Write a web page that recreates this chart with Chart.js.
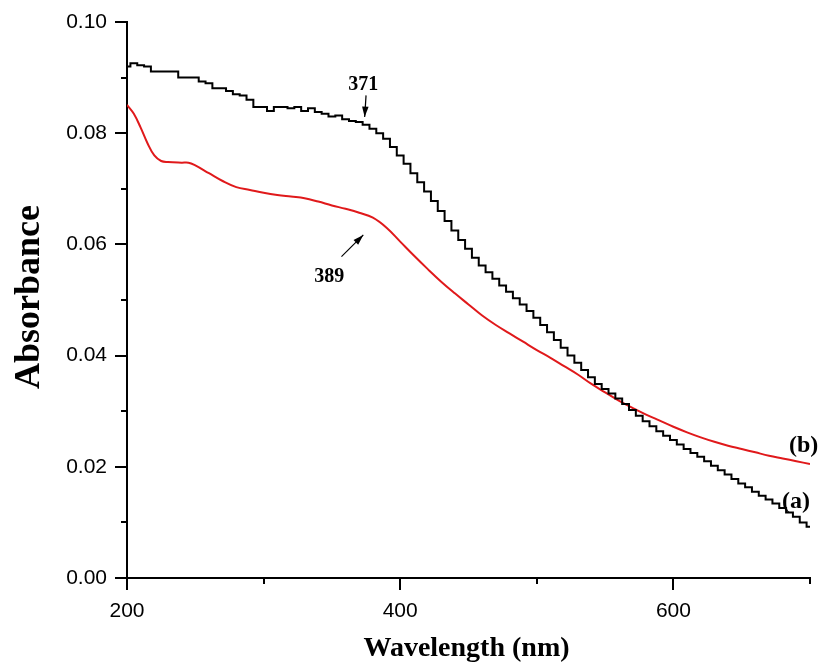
<!DOCTYPE html>
<html>
<head>
<meta charset="utf-8">
<style>
  html, body { margin: 0; padding: 0; background: #fff; }
  #wrap { width: 819px; height: 662px; }
</style>
<script src="https://cdn.jsdelivr.net/npm/chart.js@4.4.1/dist/chart.umd.min.js"></script>
</head>
<body>
<div id="wrap"><canvas id="uvChart" width="819" height="662"></canvas></div>
<script>
// curve (a), black, stepped trace
const wavelengthA = [200,205,210,215,220,225,230,235,240,245,250,255,260,265,270,275,280,285,290,295,
  300,305,310,315,320,325,330,335,340,345,350,355,360,365,370,375,380,385,390,395,
  400,405,410,415,420,425,430,435,440,445,450,455,460,465,470,475,480,485,490,495,
  500,505,510,515,520,525,530,535,540,545,550,555,560,565,570,575,580,585,590,595,
  600,605,610,615,620,625,630,635,640,645,650,655,660,665,670,675,680,685,690,695,700];
const absorbA = [0.0920,0.0926,0.0922,0.0920,0.0911,0.0911,0.0911,0.0911,0.0900,0.0900,0.0900,0.0893,0.0890,0.0881,0.0881,0.0876,0.0870,0.0868,0.0860,0.0847,
  0.0847,0.0840,0.0847,0.0847,0.0845,0.0847,0.0840,0.0845,0.0838,0.0835,0.0830,0.0832,0.0825,0.0822,0.0820,0.0815,0.0808,0.0800,0.0790,0.0775,
  0.0760,0.0745,0.0728,0.0712,0.0695,0.0678,0.0660,0.0642,0.0625,0.0608,0.0592,0.0576,0.0562,0.0550,0.0538,0.0526,0.0515,0.0503,0.0492,0.0480,
  0.0468,0.0455,0.0442,0.0428,0.0414,0.0400,0.0387,0.0374,0.0361,0.0349,0.0340,0.0332,0.0323,0.0313,0.0302,0.0292,0.0282,0.0273,0.0264,0.0256,
  0.0248,0.0240,0.0232,0.0225,0.0218,0.0210,0.0202,0.0194,0.0186,0.0178,0.0170,0.0163,0.0155,0.0148,0.0141,0.0134,0.0126,0.0118,0.0110,0.0100,0.0092];

// curve (b), red, smooth trace
const wavelengthB = [200,205,210,215,220,225,230,240,245,250,260,270,280,290,300,310,320,330,340,350,
  360,370,380,390,400,410,420,430,440,450,460,470,480,490,500,510,520,530,540,550,
  560,570,580,590,600,610,620,630,640,650,660,670,680,690,700];
const absorbB = [0.0851,0.0835,0.0810,0.0782,0.0760,0.0750,0.0748,0.0747,0.0747,0.0742,0.0728,0.0714,0.0703,0.0698,0.0693,0.0689,0.0686,0.0683,0.0677,0.0670,
  0.0664,0.0657,0.0648,0.0630,0.0605,0.0580,0.0556,0.0533,0.0512,0.0492,0.0472,0.0455,0.0440,0.0425,0.0410,0.0396,0.0381,0.0366,0.0349,0.0334,
  0.0319,0.0306,0.0294,0.0283,0.0272,0.0262,0.0253,0.0245,0.0238,0.0232,0.0226,0.0220,0.0215,0.0210,0.0205];

const xTickLabels = [200, 400, 600];
const yTickLabels = ['0.00', '0.02', '0.04', '0.06', '0.08', '0.10'];

const pts = (xs, ys) => xs.map((x, i) => ({ x: x, y: ys[i] }));

// ticks, axis titles and peak labels
const decorations = {
  id: 'decorations',
  afterDraw(chart) {
    const ctx = chart.ctx;
    const xs = chart.scales.x, ys = chart.scales.y;
    const area = chart.chartArea;
    ctx.save();
    ctx.strokeStyle = '#000';
    ctx.lineWidth = 2;
    ys.ticks.forEach((t, i) => {
      const py = Math.round(ys.getPixelForValue(t.value));
      const len = i % 2 === 0 ? 12 : 6;
      ctx.beginPath(); ctx.moveTo(area.left, py); ctx.lineTo(area.left - len, py); ctx.stroke();
    });
    xs.ticks.forEach((t, i) => {
      const px = Math.round(xs.getPixelForValue(t.value));
      const len = i % 2 === 0 ? 12 : 6;
      ctx.beginPath(); ctx.moveTo(px, area.bottom); ctx.lineTo(px, area.bottom + len); ctx.stroke();
    });

    ctx.fillStyle = '#000';
    ctx.font = 'bold 28px "Liberation Serif", "Times New Roman", serif';
    ctx.textAlign = 'center';
    ctx.textBaseline = 'alphabetic';
    ctx.fillText('Wavelength (nm)', (area.left + area.right) / 2 - 2, 656);
    ctx.save();
    ctx.translate(39, 297);
    ctx.rotate(-Math.PI / 2);
    ctx.font = 'bold 36px "Liberation Serif", "Times New Roman", serif';
    ctx.fillText('Absorbance', 0, 0);
    ctx.restore();

    ctx.font = 'bold 20px "Liberation Serif", "Times New Roman", serif';
    ctx.fillText('371', xs.getPixelForValue(373), ys.getPixelForValue(0.0878));
    ctx.fillText('389', xs.getPixelForValue(348), ys.getPixelForValue(0.0532));
    ctx.font = 'bold 24px "Liberation Serif", "Times New Roman", serif';
    ctx.textAlign = 'left';
    ctx.fillText('(b)', xs.getPixelForValue(697) - 17, ys.getPixelForValue(0.0227));
    ctx.fillText('(a)', xs.getPixelForValue(697) - 24, ys.getPixelForValue(0.0126));

    const arrow = (x0, y0, x1, y1) => {
      const a = Math.atan2(y1 - y0, x1 - x0);
      ctx.lineWidth = 1.2;
      ctx.beginPath(); ctx.moveTo(x0, y0); ctx.lineTo(x1, y1); ctx.stroke();
      ctx.beginPath();
      ctx.moveTo(x1, y1);
      ctx.lineTo(x1 - 11 * Math.cos(a - 0.3), y1 - 11 * Math.sin(a - 0.3));
      ctx.lineTo(x1 - 11 * Math.cos(a + 0.3), y1 - 11 * Math.sin(a + 0.3));
      ctx.closePath(); ctx.fill();
    };
    arrow(xs.getPixelForValue(375), ys.getPixelForValue(0.0868), xs.getPixelForValue(374), ys.getPixelForValue(0.0829));
    arrow(xs.getPixelForValue(357), ys.getPixelForValue(0.0578), xs.getPixelForValue(373), ys.getPixelForValue(0.0617));
    ctx.restore();
  }
};

const ctx = document.getElementById('uvChart').getContext('2d');
const uvChart = new Chart(ctx, {
  type: 'line',
  data: {
    datasets: [{
      label: '(a)',
      data: pts(wavelengthA, absorbA),
      borderColor: '#000000',
      borderWidth: 2,
      stepped: 'middle',
      pointRadius: 0,
      fill: false
    }, {
      label: '(b)',
      data: pts(wavelengthB, absorbB),
      borderColor: '#e0191b',
      borderWidth: 2,
      tension: 0.4,
      pointRadius: 0,
      fill: false
    }]
  },
  options: {
    responsive: false,
    animation: false,
    layout: { padding: { left: 0, top: 22, right: 7, bottom: 0 } },
    plugins: { legend: { display: false }, tooltip: { enabled: false } },
    scales: {
      x: {
        type: 'linear',
        min: 200,
        max: 700,
        afterFit: s => { s.height = 84; },
        border: { display: true, color: '#000', width: 2 },
        grid: { drawOnChartArea: false, drawTicks: true, tickLength: 12, color: 'rgba(0,0,0,0)' },
        ticks: {
          stepSize: 100,
          padding: 9,
          color: '#000',
          font: { family: '"Liberation Sans", Arial, sans-serif', size: 21 },
          callback: v => xTickLabels.includes(v) ? String(v) : ''
        }
      },
      y: {
        min: 0,
        max: 0.1,
        afterFit: s => { s.width = 127; },
        border: { display: true, color: '#000', width: 2 },
        grid: { drawOnChartArea: false, drawTicks: true, tickLength: 12, color: 'rgba(0,0,0,0)' },
        ticks: {
          stepSize: 0.01,
          padding: 8,
          color: '#000',
          font: { family: '"Liberation Sans", Arial, sans-serif', size: 21 },
          callback: (v, i) => i % 2 === 0 ? yTickLabels[i / 2] : ''
        }
      }
    }
  },
  plugins: [decorations]
});
</script>
</body>
</html>
